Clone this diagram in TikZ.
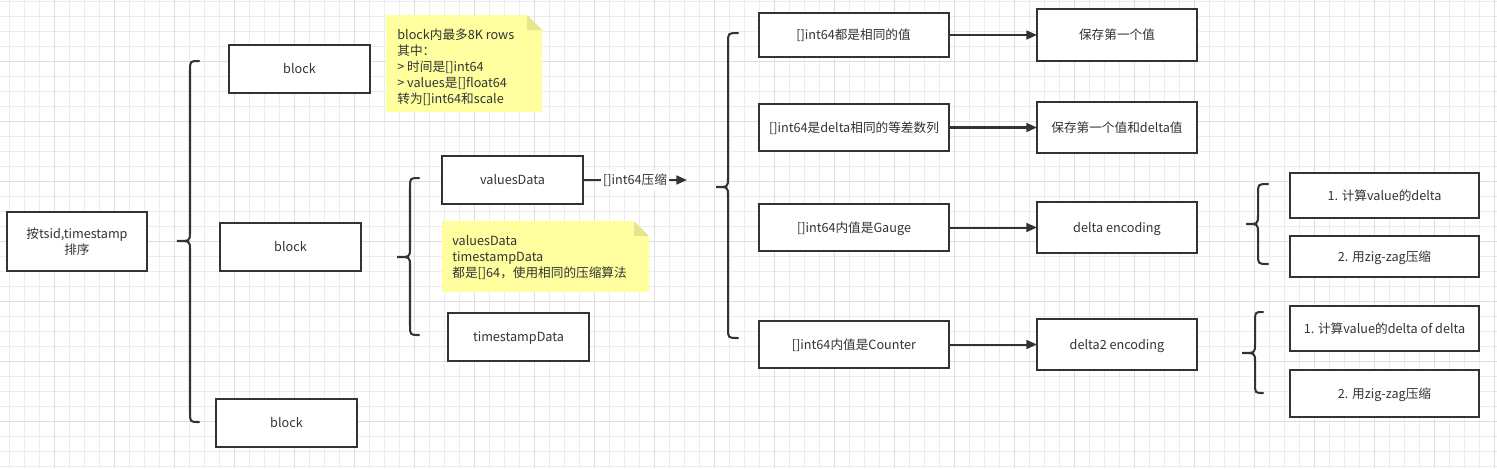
\documentclass[tikz,border=0pt]{standalone}
\usepackage{fontspec}
\setmainfont{Noto Sans CJK SC}
\usetikzlibrary{arrows.meta}
\definecolor{txt}{RGB}{51,51,51}
\definecolor{edge}{RGB}{51,51,51}
\definecolor{gridminor}{RGB}{236,236,236}
\definecolor{gridmajor}{RGB}{222,222,222}
\definecolor{notefill}{RGB}{255,255,160}
\definecolor{notefold}{RGB}{230,230,140}
\newdimen\pxu
\pxu=0.02cm
\newcommand\drawcurly[6]{%
  \draw[bracestyle] (#1,#4) .. controls (#2,#4) .. (#2,#4+10) -- (#2,#5-9)
    .. controls (#2,#5) .. (#3,#5) .. controls (#2,#5) .. (#2,#5+9)
    -- (#2,#6-10) .. controls (#2,#6) .. (#1,#6);}
\newcommand\drawnote[4]{%
  \fill[notefill] (#1,#2) -- (#3-15,#2) -- (#3,#2+15) -- (#3,#4) -- (#1,#4) -- cycle;
  \fill[notefold] (#3-15,#2) -- (#3-15,#2+15) -- (#3,#2+15) -- cycle;}
\begin{document}
\begin{tikzpicture}[x=0.02cm,y=-0.02cm,
  every node/.style={font=\fontsize{7.2pt}{9.07pt}\selectfont, text=txt},
  basebox/.style={draw=edge, line width=1.15pt, fill=white, inner sep=0pt, outer sep=0pt, align=center},
  box/.style={basebox, text height=0.72em, text depth=0.2em},
  notetext/.style={anchor=west, align=left, inner sep=0pt},
  bracestyle/.style={draw=edge, line width=1.15pt, line cap=round},
  conn/.style={draw=edge, line width=1.15pt, -{Triangle[length=6pt,width=5pt]}},
  lbl/.style={fill=white, inner sep=1pt}]
\useasboundingbox (0,0) rectangle (1497,468);
% grid
\begin{scope}
\clip (0,0) rectangle (1497,468);
\fill[white] (0,0) rectangle (1497,468);
\foreach \i in {0,...,99} \draw[gridminor, line width=0.6pt] (9.3+15*\i,0) -- (9.3+15*\i,468);
\foreach \i in {0,...,31} \draw[gridminor, line width=0.6pt] (0,1.7+15*\i) -- (1497,1.7+15*\i);
\foreach \i in {0,...,24} \draw[gridmajor, line width=0.6pt] (54.3+60*\i,0) -- (54.3+60*\i,468);
\foreach \i in {0,...,7} \draw[gridmajor, line width=0.6pt] (0,61.7+60*\i) -- (1497,61.7+60*\i);
\end{scope}
% notes
\drawnote{386}{15}{542}{112}
\node[notetext] (note1) at (397,67) {block内最多8K rows\\其中：\\> 时间是[]int64\\> values是[]float64\\转为[]int64和scale};
\drawnote{442}{221}{649}{292}
\node[notetext] (note2) at (452,257.5) {valuesData\\timestampData\\都是[]64，使用相同的压缩算法};
% boxes
\node[basebox, minimum width=140\pxu, minimum height=59\pxu] (sort) at (77,241.5) {按tsid,timestamp\\排序};
\node[box, minimum width=141\pxu, minimum height=48\pxu] (block1) at (299.5,69) {block};
\node[box, minimum width=141\pxu, minimum height=48\pxu] (block2) at (290.5,247) {block};
\node[box, minimum width=141\pxu, minimum height=48\pxu] (block3) at (286.5,423) {block};
\node[box, minimum width=141\pxu, minimum height=48\pxu] (vd) at (512.5,180) {valuesData};
\node[box, minimum width=141\pxu, minimum height=48\pxu] (td) at (518.5,337) {timestampData};
\node[box, minimum width=190\pxu, minimum height=44\pxu] (a1) at (853.5,35) {[]int64都是相同的值};
\node[box, minimum width=190\pxu, minimum height=47\pxu] (a2) at (854,127.5) {[]int64是delta相同的等差数列};
\node[box, minimum width=190\pxu, minimum height=47\pxu] (a3) at (854,227.5) {[]int64内值是Gauge};
\node[box, minimum width=190\pxu, minimum height=47\pxu] (a4) at (854,344.5) {[]int64内值是Counter};
\node[box, minimum width=160\pxu, minimum height=52\pxu] (b1) at (1117,35) {保存第一个值};
\node[box, minimum width=160\pxu, minimum height=51\pxu] (b2) at (1117,127.5) {保存第一个值和delta值};
\node[box, minimum width=160\pxu, minimum height=51\pxu] (b3) at (1117,227.5) {delta encoding};
\node[box, minimum width=160\pxu, minimum height=51\pxu] (b4) at (1117,344.5) {delta2 encoding};
\node[box, minimum width=189\pxu, minimum height=45\pxu] (c1) at (1384.5,195.5) {1. 计算value的delta};
\node[box, minimum width=189\pxu, minimum height=41\pxu] (c2) at (1384.5,256.5) {2. 用zig-zag压缩};
\node[box, minimum width=189\pxu, minimum height=45\pxu] (c3) at (1384.5,328.5) {1. 计算value的delta of delta};
\node[box, minimum width=189\pxu, minimum height=47\pxu] (c4) at (1384.5,393.5) {2. 用zig-zag压缩};
% braces
\drawcurly{199}{190}{177}{61}{241}{422}
\drawcurly{419}{410}{397}{178}{257}{335}
\drawcurly{738}{728}{716}{33}{187}{338}
\drawcurly{1268}{1258}{1246}{184}{224}{264}
\drawcurly{1263}{1255}{1242}{312}{353}{393}
% connectors
\coordinate (vdend) at (687,180);
\draw[conn] (vd.east) -- node[lbl, text height=0.72em, text depth=0.2em] (vdlbl) {[]int64压缩} (vdend);
\draw[conn] (a1.east) -- (a1.east -| b1.west);
\draw[conn] (a2) -- (b2);
\draw[conn] (a3) -- (b3);
\draw[conn] (a4) -- (b4);
\end{tikzpicture}
\end{document}
